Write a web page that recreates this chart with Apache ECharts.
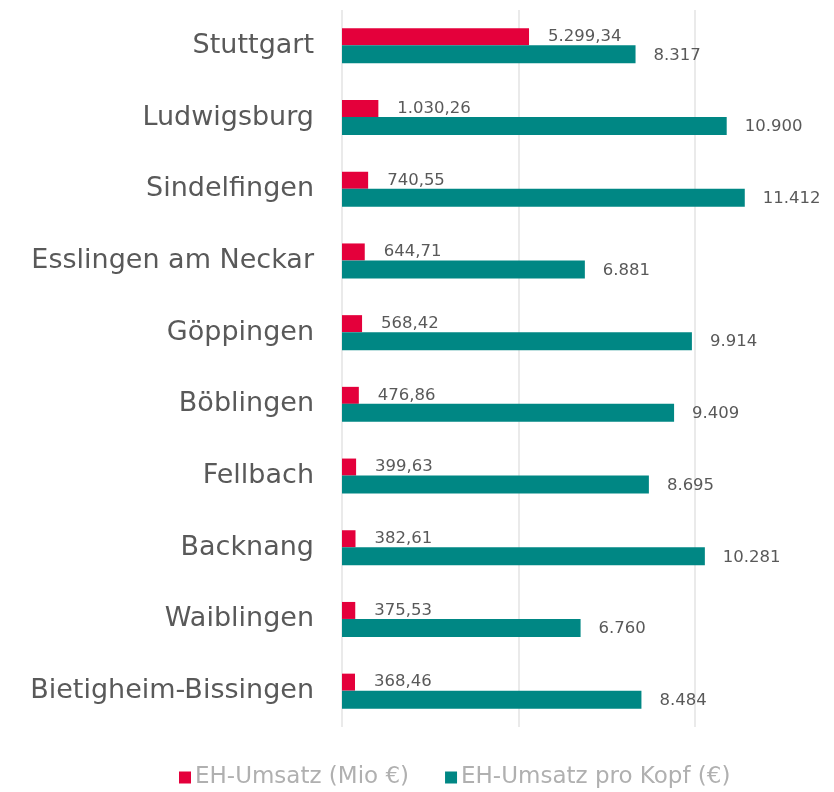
<!DOCTYPE html>
<html><head><meta charset="utf-8">
<script src="https://cdn.jsdelivr.net/npm/echarts@6/dist/echarts.min.js"></script>
<style>html,body{margin:0;padding:0;background:#fff}#c{width:834px;height:792px}</style>
</head><body><div id="c"></div>
<script>
const categories = ["Stuttgart","Ludwigsburg","Sindelfingen","Esslingen am Neckar","Göppingen","Böblingen","Fellbach","Backnang","Waiblingen","Bietigheim-Bissingen"];
const umsatzMio = [5299.34,1030.26,740.55,644.71,568.42,476.86,399.63,382.61,375.53,368.46];
const proKopf = [8317,10900,11412,6881,9914,9409,8695,10281,6760,8484];
const seriesNames = ["EH-Umsatz (Mio €)","EH-Umsatz pro Kopf (€)"];

function fmt(v, dec){
  const parts = v.toFixed(dec).split('.');
  parts[0] = parts[0].replace(/\B(?=(\d{3})+(?!\d))/g, '.');
  return parts.join(',');
}
const FONT = '"DejaVu Sans", sans-serif';
const chart = echarts.init(document.getElementById('c'));
chart.setOption({
  animation:false,
  textStyle:{fontFamily:FONT},
  grid:{left:342, top:10, right:0, height:717, containLabel:false},
  xAxis:{type:'value', min:0, max:13940, interval:5000,
    axisLabel:{show:false}, axisLine:{show:false}, axisTick:{show:false},
    splitLine:{lineStyle:{color:['#e3e3e3','#e3e3e3','#e3e3e3','rgba(0,0,0,0)'], width:1.5}}},
  yAxis:{type:'category', data:categories, inverse:true,
    axisLine:{show:false}, axisTick:{show:false},
    axisLabel:{color:'#595959', fontSize:27, margin:28, fontFamily:FONT}},
  legend:{bottom:-2, left:174, itemWidth:12, itemHeight:12, itemGap:36,
    icon:'rect', textStyle:{color:'#b0b0b0', fontSize:23, fontFamily:FONT, padding:[0,0,0,-1]}},
  series:[
    {name:seriesNames[0], type:'bar', data:umsatzMio, barWidth:17, barGap:'0%', barCategoryGap:'51%',
     itemStyle:{color:'#e4003b'},
     label:{show:true, position:'right', distance:19, color:'#595959', fontSize:16.5, offset:[0,0],
       formatter:p=>fmt(p.value,2)}},
    {name:seriesNames[1], type:'bar', data:proKopf, barWidth:18,
     itemStyle:{color:'#008784'},
     label:{show:true, position:'right', distance:18, color:'#595959', fontSize:16.5, offset:[0,1],
       formatter:p=>fmt(p.value,0)}}
  ]
});
</script></body></html>
